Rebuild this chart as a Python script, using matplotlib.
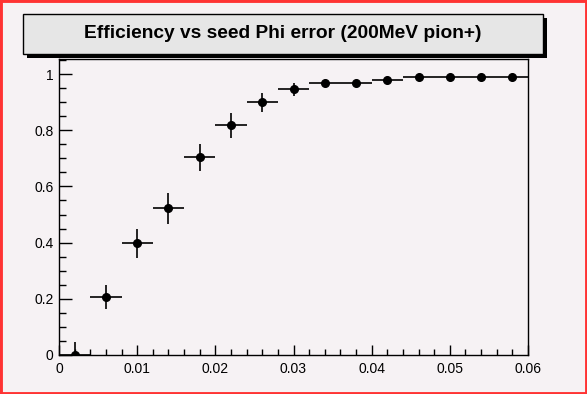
import matplotlib
matplotlib.use('Agg')
import matplotlib.pyplot as plt
import numpy as np
from matplotlib.patches import Rectangle
from matplotlib.ticker import MultipleLocator

# seed phi error bins (centres) and efficiency
phi_err = [0.002, 0.006, 0.010, 0.014, 0.018, 0.022, 0.026, 0.030,
           0.034, 0.038, 0.042, 0.046, 0.050, 0.054, 0.058]
eff = [0.0, 0.205, 0.397, 0.522, 0.703, 0.817, 0.899, 0.945,
       0.967, 0.967, 0.978, 0.988, 0.988, 0.988, 0.988]
eff_err = [0.045, 0.043, 0.052, 0.055, 0.049, 0.043, 0.034, 0.024,
           0.012, 0.012, 0.008, 0.005, 0.005, 0.005, 0.005]
bin_half = [0.002] * len(phi_err)

title = 'Efficiency vs seed Phi error (200MeV pion+)'

plt.rcParams['font.family'] = ['Liberation Sans', 'DejaVu Sans']

W, H = 587, 394
bg = '#f6f2f4'
fig = plt.figure(figsize=(W / 100, H / 100), dpi=100, facecolor=bg)

ax = fig.add_axes([59 / W, 1 - 355 / H, (528 - 59) / W, (355 - 59) / H])
ax.set_facecolor(bg)

# lower error clipped at 0 for the first bin
lo = [min(e, v) for e, v in zip(eff_err, eff)]
ax.errorbar(phi_err, eff, xerr=bin_half, yerr=[lo, eff_err], fmt='o',
            color='black', ms=5.5, elinewidth=1.2, capsize=0)

ax.set_xlim(0, 0.06)
ax.set_ylim(0, 1.0534)
ax.xaxis.set_minor_locator(MultipleLocator(0.002))
ax.yaxis.set_minor_locator(MultipleLocator(0.05))
ax.set_xticks([0, 0.01, 0.02, 0.03, 0.04, 0.05, 0.06])
ax.set_xticklabels(['0', '0.01', '0.02', '0.03', '0.04', '0.05', '0.06'])
ax.set_yticks([0, 0.2, 0.4, 0.6, 0.8, 1.0])
ax.set_yticklabels(['0', '0.2', '0.4', '0.6', '0.8', '1'])
ax.tick_params(which='both', direction='in', labelsize=10, width=1, color='black')
ax.tick_params(axis='y', which='major', length=9.5, pad=4)
ax.tick_params(axis='y', which='minor', length=5)
ax.tick_params(axis='x', which='major', length=7.5, pad=5)
ax.tick_params(axis='x', which='minor', length=4)
for s in ax.spines.values():
    s.set_linewidth(1)

# title box with shadow
shadow = Rectangle((27 / W, 1 - 58 / H), 520 / W, 40 / H, transform=fig.transFigure,
                   facecolor='black', edgecolor='black', lw=0)
box = Rectangle((23 / W, 1 - 54 / H), 520 / W, 40 / H, transform=fig.transFigure,
                facecolor='#e6e6e6', edgecolor='black', lw=1)
fig.patches.extend([shadow, box])
fig.text(283 / W, 1 - 33 / H, title, ha='center', va='center',
         fontsize=13.8, fontweight='bold')

# red canvas frame
frame = Rectangle((0, 0), 1, 1, transform=fig.transFigure, fill=False,
                  edgecolor='#ff3333', lw=3.5)
fig.patches.append(frame)

fig.savefig('out.png', dpi=100, facecolor=bg)
